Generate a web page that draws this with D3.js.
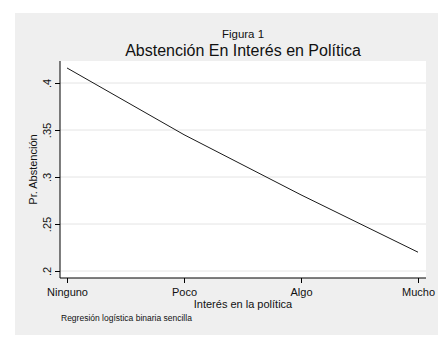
<!DOCTYPE html>
<html>
<head>
<meta charset="utf-8">
<script src="https://cdn.jsdelivr.net/npm/d3@7"></script>
<style>
  body { margin: 0; background: #fff; }
  svg text { font-family: "Liberation Sans", Arial, sans-serif; fill: #111; }
</style>
</head>
<body>
<svg id="chart" width="446" height="346"></svg>
<script>
// data
const categories = ["Ninguno", "Poco", "Algo", "Mucho"];
const probs = [0.416, 0.345, 0.281, 0.220];
const yTicks = [0.2, 0.25, 0.3, 0.35, 0.4];
const yTickLabels = [".2", ".25", ".3", ".35", ".4"];

const svg = d3.select("#chart");
const plot = { left: 60, right: 426, top: 61, bottom: 278 };

// gray stata-like background
svg.append("rect")
    .attr("x", 15).attr("y", 13)
    .attr("width", 423).attr("height", 322)
    .attr("fill", "#efefef");

svg.append("rect")
    .attr("x", plot.left).attr("y", plot.top)
    .attr("width", plot.right - plot.left).attr("height", plot.bottom - plot.top)
    .attr("fill", "#fff");

const x = d3.scalePoint()
    .domain(categories)
    .range([67, 418]);

const y = d3.scaleLinear()
    .domain([0.2, 0.4])
    .range([271, 83]);

// gridlines
svg.append("g").selectAll("line")
    .data(yTicks)
    .enter().append("line")
    .attr("x1", plot.left).attr("x2", plot.right)
    .attr("y1", d => y(d)).attr("y2", d => y(d))
    .attr("stroke", "#e4e4e4")
    .attr("stroke-width", 1);

// y axis
const yAxis = svg.append("g")
    .attr("transform", "translate(" + plot.left + ",0)")
    .call(d3.axisLeft(y).tickValues(yTicks).tickSize(5)
        .tickFormat((d, i) => yTickLabels[i]));
yAxis.select(".domain").attr("d", "M0," + plot.top + "V" + plot.bottom).attr("stroke", "#000");
yAxis.selectAll(".tick line").attr("stroke", "#000");
yAxis.selectAll(".tick text")
    .attr("font-size", 11)
    .attr("x", 0).attr("dy", 0)
    .attr("text-anchor", "middle")
    .attr("transform", "translate(-9,0) rotate(-90)");

// x axis
const xAxis = svg.append("g")
    .attr("transform", "translate(0," + plot.bottom + ")")
    .call(d3.axisBottom(x).tickSize(5).tickPadding(5));
xAxis.select(".domain").attr("d", "M" + plot.left + ",0H" + plot.right).attr("stroke", "#000");
xAxis.selectAll(".tick line").attr("stroke", "#000");
xAxis.selectAll(".tick text").attr("font-size", 11);

// line
const line = d3.line()
    .x((d, i) => x(categories[i]))
    .y(d => y(d));

svg.append("path")
    .datum(probs)
    .attr("d", line)
    .attr("fill", "none")
    .attr("stroke", "#1a1a1a")
    .attr("stroke-width", 1);

// titles
svg.append("text")
    .attr("x", 243).attr("y", 38)
    .attr("text-anchor", "middle")
    .attr("font-size", 11.5)
    .text("Figura 1");

svg.append("text")
    .attr("x", 243).attr("y", 56)
    .attr("text-anchor", "middle")
    .attr("font-size", 16)
    .text("Abstención En Interés en Política");

svg.append("text")
    .attr("x", 243).attr("y", 308)
    .attr("text-anchor", "middle")
    .attr("font-size", 11)
    .text("Interés en la política");

svg.append("text")
    .attr("transform", "translate(37," + ((plot.top + plot.bottom) / 2) + ") rotate(-90)")
    .attr("text-anchor", "middle")
    .attr("font-size", 11)
    .text("Pr. Abstención");

svg.append("text")
    .attr("x", 61).attr("y", 321)
    .attr("font-size", 8.5)
    .text("Regresión logística binaria sencilla");
</script>
</body>
</html>
